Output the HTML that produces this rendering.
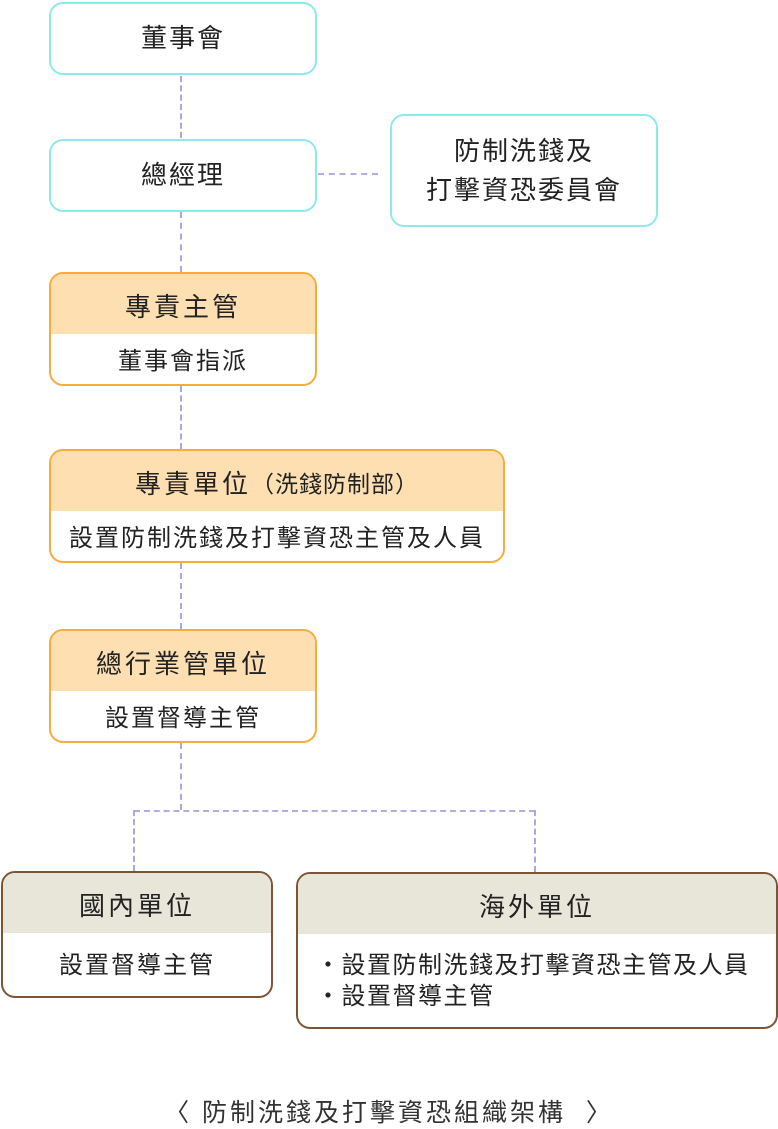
<!DOCTYPE html>
<html><head><meta charset="utf-8"><style>
body{margin:0;width:778px;height:1127px;background:#fff;position:relative;font-family:"Liberation Sans","Noto Sans CJK TC",sans-serif;color:#222;overflow:hidden}
.b{position:absolute;box-sizing:border-box;border-radius:14px;overflow:hidden;background:#fff}
.c{border:2px solid #8ee9ec;display:flex;align-items:center;justify-content:center;text-align:center;font-size:26px;line-height:39px;letter-spacing:2px}
.o{border:2px solid #f7ac3c}
.o .h{background:#fddfb1}
.w{border:2px solid #7d5536}
.w .h{background:#e8e6d8}
.h{height:60px;display:flex;align-items:center;justify-content:center;font-size:26px;letter-spacing:3px;padding-top:2px;box-sizing:border-box}
.t{display:flex;justify-content:center;font-size:24px;letter-spacing:2px;padding-top:7px}
.v{position:absolute;border-left:2px dashed #aea6e0;width:0}
.hz{position:absolute;border-top:2px dashed #b3acdf;height:0}
</style></head><body>
<div class="v" style="left:180px;top:76px;height:62px"></div>
<div class="v" style="left:180px;top:212px;height:60px"></div>
<div class="v" style="left:180px;top:386px;height:63px"></div>
<div class="v" style="left:180px;top:563px;height:66px"></div>
<div class="v" style="left:180px;top:743px;height:67px"></div>
<div class="hz" style="left:134px;top:810px;width:401px"></div>
<div class="v" style="left:133px;top:810px;height:61px"></div>
<div class="v" style="left:534px;top:810px;height:62px"></div>
<div class="hz" style="left:318px;top:173px;width:60px"></div>

<div class="b c" style="left:49px;top:2px;width:268px;height:73px">董事會</div>
<div class="b c" style="left:49px;top:139px;width:268px;height:73px">總經理</div>
<div class="b c" style="left:390px;top:114px;width:268px;height:113px">防制洗錢及<br>打擊資恐委員會</div>

<div class="b o" style="left:49px;top:272px;width:268px;height:114px"><div class="h">專責主管</div><div class="t">董事會指派</div></div>
<div class="b o" style="left:49px;top:449px;width:456px;height:114px"><div class="h">專責單位<span style="font-size:23px;letter-spacing:1px">（洗錢防制部）</span></div><div class="t">設置防制洗錢及打擊資恐主管及人員</div></div>
<div class="b o" style="left:49px;top:629px;width:268px;height:114px"><div class="h">總行業管單位</div><div class="t">設置督導主管</div></div>

<div class="b w" style="left:1px;top:871px;width:272px;height:127px"><div class="h">國內單位</div><div class="t" style="padding-top:12px">設置督導主管</div></div>
<div class="b w" style="left:296px;top:872px;width:482px;height:157px"><div class="h">海外單位</div><div style="font-size:24px;letter-spacing:1.5px;line-height:31px;padding:16px 0 0 18px">・設置防制洗錢及打擊資恐主管及人員<br>・設置督導主管</div></div>

<div style="position:absolute;left:0;width:778px;top:1093px;text-align:center;font-size:25px;color:#333;letter-spacing:3px">〈 防制洗錢及打擊資恐組織架構&nbsp;&nbsp;〉</div>
</body></html>
